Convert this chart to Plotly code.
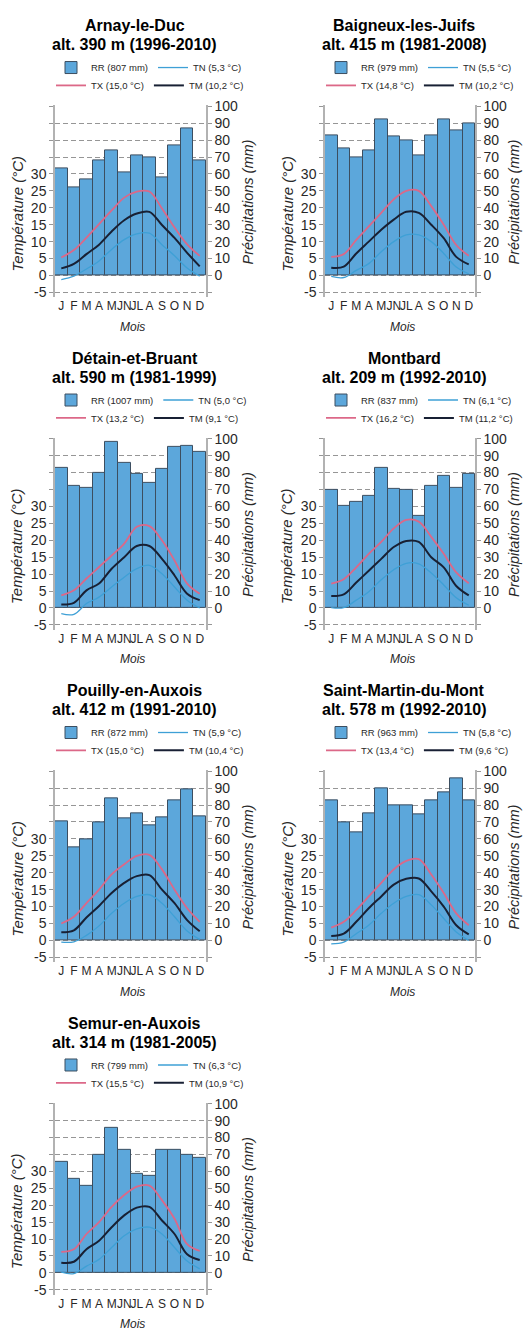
import plotly.graph_objects as go

# ---------------- data ----------------
MONTHS = ["J", "F", "M", "A", "M", "JN", "JL", "A", "S", "O", "N", "D"]
MONTH_IDX = list(range(12))

STATION_NAMES = ["Arnay-le-Duc", "Baigneux-les-Juifs", "Détain-et-Bruant", "Montbard",
                 "Pouilly-en-Auxois", "Saint-Martin-du-Mont", "Semur-en-Auxois"]
STATION_INFO = ["alt. 390 m (1996-2010)", "alt. 415 m (1981-2008)", "alt. 590 m (1981-1999)",
                "alt. 209 m (1992-2010)", "alt. 412 m (1991-2010)", "alt. 578 m (1992-2010)",
                "alt. 314 m (1981-2005)"]

RR_TOTALS = ["807", "979", "1007", "837", "872", "963", "799"]
TN_MEANS = ["5,3", "5,5", "5,0", "6,1", "5,9", "5,8", "6,3"]
TX_MEANS = ["15,0", "14,8", "13,2", "16,2", "15,0", "13,4", "15,5"]
TM_MEANS = ["10,2", "10,2", "9,1", "11,2", "10,4", "9,6", "10,9"]

# precipitation (mm)
RR_ARNAY = [63, 52, 57, 68, 74, 61, 71, 70, 58, 77, 87, 68]
RR_BAIGNEUX = [83, 75, 70, 74, 92, 82, 80, 71, 83, 92, 86, 90]
RR_DETAIN = [83, 72, 71, 80, 98, 86, 79, 74, 82, 95, 96, 92]
RR_MONTBARD = [70, 60.5, 62.5, 66.5, 83, 70.5, 69.5, 54.5, 72, 78, 71, 79]
RR_POUILLY = [70.5, 55, 60, 70, 84, 72, 75, 68, 73, 83, 89, 73.5]
RR_STMARTIN = [82.5, 69.5, 64, 75, 90, 80, 80, 74.5, 82.5, 87.5, 96, 82.5]
RR_SEMUR = [65.5, 55.5, 51.5, 70, 86, 73, 58.5, 57.5, 72.5, 72.5, 70, 68]

# max temperature (°C)
TX_ARNAY = [5.3, 7.5, 11.2, 15.2, 19.2, 23, 24.8, 24.8, 19.8, 14.2, 9.2, 5.8]
TX_BAIGNEUX = [5.5, 6.3, 10.5, 14.5, 18.5, 22.5, 25, 25, 20.5, 15, 9, 5.8]
TX_DETAIN = [3.7, 5.2, 8.7, 12.1, 15.5, 19, 24, 24.2, 20, 14, 7.2, 4.2]
TX_MONTBARD = [7.2, 8.5, 12, 16, 19.5, 23.5, 26, 25.5, 21, 16, 10.5, 7.3]
TX_POUILLY = [5, 7, 11, 15, 19.5, 22.5, 25, 25.3, 21, 15, 9.5, 5.5]
TX_STMARTIN = [3.8, 5.5, 9, 13, 17, 21, 23.5, 24, 19.5, 14, 8, 4.5]
TX_SEMUR = [6.2, 7, 11.5, 15, 19.5, 23, 25.5, 25.8, 21.5, 16, 8.5, 6.5]

# mean temperature (°C)
TM_ARNAY = [2.1, 3.4, 6.3, 9.1, 13, 16.3, 18.3, 18.8, 14.9, 11.1, 6.7, 2.7]
TM_BAIGNEUX = [2.3, 2.6, 6.5, 10, 13.5, 16.5, 18.8, 18.5, 15, 11, 5.5, 3.3]
TM_DETAIN = [1, 1.5, 5.2, 7.2, 11.6, 15, 18.3, 18.3, 14.5, 9.6, 4.2, 2.3]
TM_MONTBARD = [3.5, 4, 7.5, 11, 14.5, 18, 19.8, 19.5, 15, 12, 6.5, 3.7]
TM_POUILLY = [2.4, 3, 6.8, 10.2, 14, 17, 19, 19.3, 15, 11, 6, 2.7]
TM_STMARTIN = [1.3, 2, 5.5, 9.5, 13, 16.5, 18.2, 18.3, 14.5, 10, 4.5, 1.8]
TM_SEMUR = [3, 3.3, 7, 9.5, 13.5, 17, 19.3, 19.5, 15.5, 11.5, 5.5, 3.8]

# min temperature (°C)
TN_ARNAY = [-1.2, -0.2, 1.9, 4.3, 7.7, 10.6, 12.3, 12.5, 9.1, 5.8, 2.2, -0.2]
TN_BAIGNEUX = [-0.3, -0.6, 1.5, 3.5, 7, 10, 12, 12, 10, 6.5, 2.5, 0.5]
TN_DETAIN = [-1.7, -1.9, 1.3, 3.2, 6.2, 9.1, 11.6, 12.6, 10.1, 6.2, 2.3, 0]
TN_MONTBARD = [0.1, 0.1, 2.3, 4.8, 8.3, 11.3, 13.2, 13, 10.3, 6.8, 3, 0.8]
TN_POUILLY = [-0.5, -0.4, 1.5, 4.3, 8, 11, 13, 13.5, 11, 7, 2.8, 0.3]
TN_STMARTIN = [-1, -0.5, 2, 4.5, 8, 11, 13, 13.5, 10.5, 6.5, 2.5, 0]
TN_SEMUR = [0.2, -0.2, 2, 4, 7.5, 11, 13, 13.5, 11.5, 7.5, 3.5, 1.2]

RR = [RR_ARNAY, RR_BAIGNEUX, RR_DETAIN, RR_MONTBARD, RR_POUILLY, RR_STMARTIN, RR_SEMUR]
TX = [TX_ARNAY, TX_BAIGNEUX, TX_DETAIN, TX_MONTBARD, TX_POUILLY, TX_STMARTIN, TX_SEMUR]
TM = [TM_ARNAY, TM_BAIGNEUX, TM_DETAIN, TM_MONTBARD, TM_POUILLY, TM_STMARTIN, TM_SEMUR]
TN = [TN_ARNAY, TN_BAIGNEUX, TN_DETAIN, TN_MONTBARD, TN_POUILLY, TN_STMARTIN, TN_SEMUR]

P_TICKS = [-10, 0, 10, 20, 30, 40, 50, 60, 70, 80, 90, 100]
T_TICKS = [-5, 0, 5, 10, 15, 20, 25, 30, 35, 40, 45, 50]

# ---------------- style ----------------
W, H = 524, 1331
SANS = "Liberation Sans, Arial, sans-serif"
BAR_FILL = "rgb(92,167,219)"
BAR_EDGE = "rgb(60,78,96)"
TX_COL = "rgb(220,104,136)"
TM_COL = "rgb(24,32,52)"
TN_COL = "rgb(62,160,214)"
GRID = "rgb(150,150,150)"
AXLINE = "rgb(178,178,178)"
TXT = "rgb(40,40,40)"

COL_L = [55, 325]
COL_R = [206, 475]
RIGHT_TITLE_OFFSET = [42, 39]
ROW_TOP = [100, 435, 770, 1105]   # pixel y of the 100 mm line
PX_PER_MM = 1.705
P_RANGE = [-13, 100.5]
T_RANGE = [v / 2 for v in P_RANGE]


def px(x):
    return x / W


def py(y):
    return 1 - y / H


fig = go.Figure()
layout = dict(
    width=W, height=H, autosize=False,
    margin=dict(l=0, r=0, t=0, b=0),
    paper_bgcolor="white", plot_bgcolor="white",
    bargap=0, showlegend=True,
    font=dict(family=SANS, color=TXT),
)
annotations = []

for i in range(7):
    r, c = divmod(i, 2)
    xl, xr = COL_L[c], COL_R[c]
    top = ROW_TOP[r]
    y_top = top - (P_RANGE[1] - 100) * PX_PER_MM
    y_bot = top + (100 - P_RANGE[0]) * PX_PER_MM

    xid = "" if i == 0 else str(i + 1)
    yp = 2 * i + 1
    yt = 2 * i + 2
    ypid = "" if yp == 1 else str(yp)
    ytid = str(yt)
    leg_a = "legend" if yp == 1 else f"legend{yp}"
    leg_b = f"legend{yt}"

    fig.add_trace(go.Bar(
        x=MONTH_IDX, y=RR[i], width=1,
        marker=dict(color=BAR_FILL, line=dict(color=BAR_EDGE, width=1)),
        name=f"RR ({RR_TOTALS[i]} mm)", legend=leg_a, legendrank=1,
        xaxis="x" + xid, yaxis="y" + ypid,
    ))
    fig.add_trace(go.Scatter(
        x=MONTH_IDX, y=TN[i], mode="lines", line=dict(color=TN_COL, width=1.3, shape="spline"),
        name=f"TN ({TN_MEANS[i]} °C)", legend=leg_a, legendrank=2,
        xaxis="x" + xid, yaxis="y" + ytid,
    ))
    fig.add_trace(go.Scatter(
        x=MONTH_IDX, y=TX[i], mode="lines", line=dict(color=TX_COL, width=1.8, shape="spline"),
        name=f"TX ({TX_MEANS[i]} °C)", legend=leg_b, legendrank=1,
        xaxis="x" + xid, yaxis="y" + ytid,
    ))
    fig.add_trace(go.Scatter(
        x=MONTH_IDX, y=TM[i], mode="lines", line=dict(color=TM_COL, width=2, shape="spline"),
        name=f"TM ({TM_MEANS[i]} °C)", legend=leg_b, legendrank=2,
        xaxis="x" + xid, yaxis="y" + ytid,
    ))

    layout["xaxis" + xid] = dict(
        domain=[px(xl), px(xr)], anchor="y" + ypid, range=[-0.5, 11.5],
        tickmode="array", tickvals=MONTH_IDX, ticktext=MONTHS, tickangle=0,
        showgrid=False, zeroline=False, showline=False, ticks="",
        tickfont=dict(family=SANS, size=12, color=TXT),
    )
    layout["yaxis" + ypid] = dict(
        domain=[py(y_bot), py(y_top)], anchor="x" + xid, side="right",
        range=P_RANGE, tickmode="array", tickvals=P_TICKS,
        ticktext=["" if v < 0 else str(v) for v in P_TICKS],
        showgrid=True, gridcolor=GRID, griddash="5px,3px", gridwidth=1,
        zeroline=False, showline=True, linecolor=AXLINE, linewidth=1.5,
        ticks="outside", ticklen=4, tickcolor=GRID,
        tickfont=dict(family=SANS, size=14, color=TXT),
    )
    layout["yaxis" + ytid] = dict(
        overlaying="y" + ypid, anchor="x" + xid, side="left",
        range=T_RANGE, tickmode="array", tickvals=T_TICKS,
        ticktext=[str(v) if v <= 30 else "" for v in T_TICKS],
        showgrid=False, zeroline=False, showline=True, linecolor=AXLINE, linewidth=1.5,
        ticks="outside", ticklen=4, tickcolor=GRID,
        tickfont=dict(family=SANS, size=14, color=TXT),
    )
    legend_style = dict(
        orientation="h", xanchor="left", yanchor="middle",
        bgcolor="rgba(0,0,0,0)", borderwidth=0, itemwidth=30,
        font=dict(family=SANS, size=9.5, color=TXT), tracegroupgap=0,
        itemclick=False, itemdoubleclick=False,
    )
    layout[leg_a] = dict(legend_style, x=px(xl - 4), y=py(top - 39))
    layout[leg_b] = dict(legend_style, x=px(xl - 4), y=py(top - 21))

    cx = (xl + xr) / 2
    annotations += [
        dict(text=f"<b>{STATION_NAMES[i]}</b>", x=px(cx + 4), y=py(top - 81),
             xref="paper", yref="paper", showarrow=False, xanchor="center", yanchor="middle",
             font=dict(family=SANS, size=16, color="black")),
        dict(text=f"<b>{STATION_INFO[i]}</b>", x=px(cx + 4), y=py(top - 62),
             xref="paper", yref="paper", showarrow=False, xanchor="center", yanchor="middle",
             font=dict(family=SANS, size=16, color="black")),
        dict(text="<i>Température (°C)</i>", x=px(xl - 38), y=py(top + 109), textangle=-90,
             xref="paper", yref="paper", showarrow=False, xanchor="center", yanchor="middle",
             font=dict(family=SANS, size=15, color=TXT)),
        dict(text="<i>Précipitations (mm)</i>", x=px(xr + RIGHT_TITLE_OFFSET[c]), y=py(top + 97),
             textangle=-90, xref="paper", yref="paper", showarrow=False,
             xanchor="center", yanchor="middle",
             font=dict(family=SANS, size=14.5, color=TXT)),
        dict(text="<i>Mois</i>", x=px(cx + 2), y=py(top + 222),
             xref="paper", yref="paper", showarrow=False, xanchor="center", yanchor="middle",
             font=dict(family=SANS, size=12, color=TXT)),
    ]

layout["annotations"] = annotations
fig.update_layout(**layout)
fig.write_html("out.html", config={"displayModeBar": False},
               post_script="document.body.style.margin='0px';")
